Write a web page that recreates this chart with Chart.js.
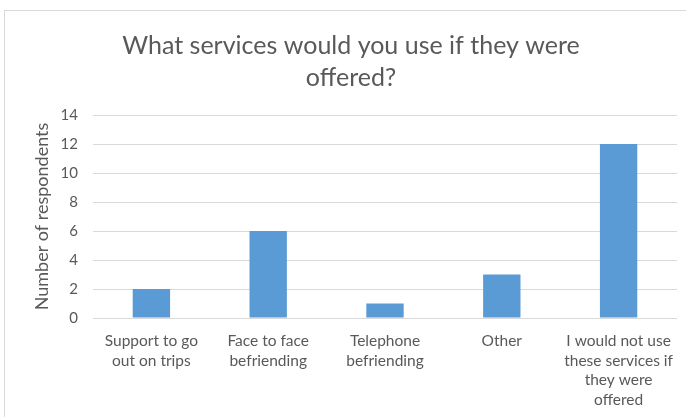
<!DOCTYPE html>
<html>
<head>
<meta charset="utf-8">
<script src="https://cdn.jsdelivr.net/npm/chart.js@4/dist/chart.umd.min.js"></script>
<style>
  html, body { margin: 0; padding: 0; background: #fff; }
  #wrap { position: relative; width: 686px; height: 417px; overflow: hidden; }
  #frame { position: absolute; left: 4px; top: 10px; width: 700px; height: 420px;
           border-left: 1px solid #d9d9d9; border-top: 1px solid #d9d9d9; }
  canvas { position: absolute; left: 0; top: 0; }
</style>
</head>
<body>
<div id="wrap">
  <div id="frame"></div>
  <canvas id="graph" width="686" height="417"></canvas>
</div>
<script>
const titleLines = ["What services would you use if they were", "offered?"];
const categories = [
    ["Support to go", "out on trips"],
    ["Face to face", "befriending"],
    ["Telephone", "befriending"],
    ["Other"],
    ["I would not use", "these services if", "they were", "offered"]
];
const respondents = [2, 6, 1, 3, 12];
const yTicks = { min: 0, max: 14, step: 2 };

const textColor = "#595959";
const fontFamily = "Lato, 'Open Sans', sans-serif";

const ctx = document.getElementById("graph").getContext("2d");

let chart = new Chart(ctx, {
    type: 'bar',
    data: {
        labels: categories,
        datasets: [{
            label: 'Number of respondents',
            data: respondents,
            backgroundColor: '#5b9bd5',
            borderWidth: 0,
            categoryPercentage: 1,
            barPercentage: 0.32
        }]
    },
    options: {
        responsive: false,
        animation: false,
        // extra left padding pushes the centred title a little to the right
        layout: { padding: { left: 25, right: 9, top: 0, bottom: 0 } },
        plugins: {
            legend: { display: false },
            tooltip: { enabled: false },
            title: {
                display: true,
                text: titleLines,
                color: textColor,
                font: { family: fontFamily, size: 25, weight: 'normal', lineHeight: 1.28 },
                padding: { top: 30, bottom: 21 }
            }
        },
        scales: {
            x: {
                grid: { display: false },
                border: { display: false },
                ticks: {
                    color: textColor,
                    font: { family: fontFamily, size: 15.5, lineHeight: 1.27 },
                    maxRotation: 0,
                    autoSkip: false,
                    padding: 5
                },
                afterFit: scale => { scale.height = 99; }
            },
            y: {
                min: yTicks.min,
                max: yTicks.max,
                grid: { color: '#d9d9d9', drawTicks: false },
                border: { display: false },
                ticks: {
                    stepSize: yTicks.step,
                    color: textColor,
                    font: { family: fontFamily, size: 15 },
                    padding: 15
                },
                title: {
                    display: true,
                    text: 'Number of respondents',
                    color: textColor,
                    font: { family: fontFamily, size: 18 },
                    padding: { top: 6, bottom: 0 }
                },
                afterFit: scale => { scale.width = 68; }
            }
        }
    }
});
</script>
</body>
</html>
